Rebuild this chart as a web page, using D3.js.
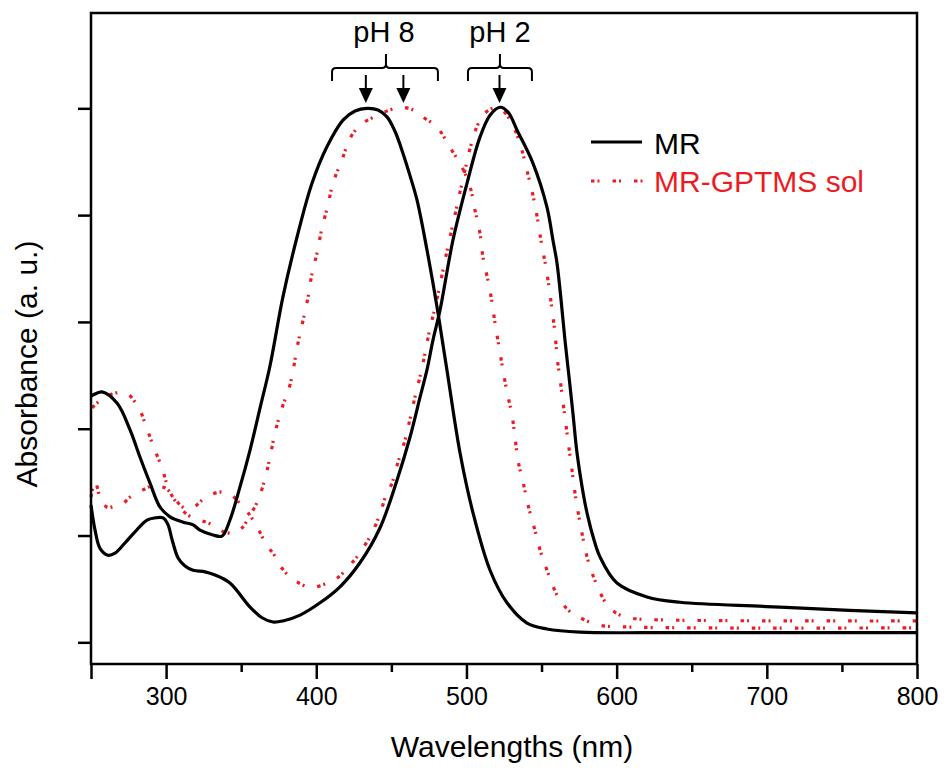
<!DOCTYPE html>
<html><head><meta charset="utf-8">
<script src="https://cdn.jsdelivr.net/npm/d3@7"></script>
<style>
html,body{margin:0;padding:0;background:#fff;}
text{font-family:"Liberation Sans",Arial,sans-serif;}
</style></head>
<body><svg id="chart" width="946" height="773"></svg>
<script>
// ---- data ----
const xTicks = [300, 400, 500, 600, 700, 800];
const xMinorTicks = [250, 350, 450, 550, 650, 750];
const yTicks = [0, 0.2, 0.4, 0.6, 0.8, 1.0];

const mr8_nm  = [250,251.3,257.3,267.3,276,282.6,289.3,296,302.6,311.3,318,322.6,331.2,337.2,342.5,349.2,355.9,362.5,369.2,377.8,387.2,397.2,407.1,417.8,425.8,433.8,441.1,447.1,452.4,457.7,462.4,467.1,473.7,480.4,487,495.7,504.4,515.7,527,540.3,553.6,575.6,622,700,800];
const mr8_abs = [0.461,0.463,0.469,0.448,0.398,0.347,0.298,0.253,0.235,0.225,0.220,0.210,0.201,0.199,0.229,0.291,0.360,0.438,0.518,0.647,0.759,0.860,0.928,0.978,0.995,1.000,0.997,0.984,0.957,0.916,0.874,0.828,0.735,0.628,0.510,0.355,0.242,0.135,0.074,0.036,0.025,0.019,0.018,0.018,0.018];

const mr2_nm  = [250,252.7,256,261.3,266,272.6,279.3,287.3,292.6,298,301.3,304,308,312.6,318,325.9,332.6,342.5,355.9,363.9,371.2,377.8,389.2,402.5,415.8,429.1,442.4,453.8,462.4,469.1,473.7,477.7,482.4,491,500.4,509,515.7,522.3,527.7,533.7,544.3,553.6,557.6,560.3,563,565.6,568.3,571,573.6,577,580.3,584.9,588.9,600.2,620.2,642.2,700,755,800];
const mr2_abs = [0.257,0.210,0.176,0.163,0.167,0.186,0.207,0.229,0.233,0.233,0.220,0.192,0.158,0.143,0.135,0.132,0.126,0.111,0.066,0.046,0.038,0.040,0.051,0.074,0.104,0.149,0.214,0.304,0.384,0.459,0.510,0.566,0.622,0.753,0.860,0.946,0.987,1.002,0.993,0.959,0.897,0.815,0.753,0.710,0.641,0.566,0.497,0.426,0.355,0.291,0.242,0.192,0.160,0.111,0.085,0.075,0.067,0.060,0.055];

const gp8_nm  = [250.7,254,257.3,264,269.3,274.6,279.3,282.6,286,291.3,297.3,300.6,304,310.6,315.9,322.6,329.2,335.9,341.2,345.9,350.5,355.9,361.2,365.9,369.2,372.5,377.2,382.5,387.8,391.2,394.5,397.2,400.5,403.8,407.8,411.1,417.1,422.5,429.1,437.8,449.1,455.8,464.4,472.4,480.4,489,494.4,497,502.4,505.7,509,511,514.3,517,519,521.7,524.3,527,530.3,532.3,534.3,537.7,541,545,549,554.3,561,567.6,574.3,588.9,604.2,655.5,800];
const gp8_abs = [0.439,0.448,0.455,0.465,0.468,0.465,0.450,0.435,0.410,0.369,0.326,0.296,0.274,0.248,0.236,0.229,0.222,0.210,0.205,0.205,0.214,0.238,0.266,0.307,0.347,0.392,0.439,0.482,0.560,0.603,0.646,0.691,0.729,0.776,0.819,0.860,0.903,0.944,0.968,0.983,0.997,1.002,0.997,0.981,0.965,0.927,0.903,0.890,0.853,0.809,0.766,0.721,0.678,0.637,0.598,0.553,0.510,0.469,0.426,0.385,0.341,0.300,0.257,0.216,0.173,0.130,0.085,0.061,0.048,0.032,0.029,0.027,0.027];

const gp2_nm  = [250,252.7,256,260.7,266,271.3,276,282.6,287.3,291.3,296,300.6,305.9,311.3,317.3,323.9,329.2,334.6,339.2,343.9,349.2,353.9,357.2,362.5,367.2,371.2,375.8,382.5,387.2,393.2,399.2,403.8,409.1,413.8,417.8,422.5,427.1,432.4,437.1,442.4,446.4,450.4,454.4,459.1,462.4,465.7,469.1,472.4,475.7,479.1,482.4,485.7,489,492.4,495.7,499,502.4,507,511,515.7,520.3,524.3,529,533.7,537,541,544.3,547,549.6,552.3,555,557,559,560.3,562.3,564.3,566.3,568.3,570.3,572.3,574.9,577.6,580.9,586.3,594.2,602.2,610.2,628.9,800];
const gp2_abs = [0.272,0.302,0.272,0.253,0.255,0.260,0.272,0.283,0.289,0.294,0.292,0.287,0.268,0.253,0.251,0.266,0.275,0.281,0.281,0.275,0.260,0.245,0.232,0.206,0.180,0.167,0.144,0.122,0.113,0.105,0.103,0.107,0.113,0.120,0.130,0.145,0.160,0.182,0.205,0.240,0.275,0.298,0.337,0.379,0.418,0.459,0.498,0.541,0.588,0.627,0.670,0.715,0.758,0.801,0.843,0.884,0.925,0.966,0.987,0.998,1.002,0.996,0.978,0.950,0.921,0.876,0.837,0.798,0.753,0.712,0.665,0.622,0.579,0.534,0.494,0.449,0.406,0.363,0.322,0.279,0.235,0.195,0.154,0.111,0.068,0.051,0.045,0.042,0.040];

const legendLabels = ["MR", "MR-GPTMS sol"];
const annotLabels = ["pH 8", "pH 2"];
const arrowNm = [433, 458, 522];

// ---- drawing ----
const svg = d3.select("#chart");
const L = 91, R = 917, T = 13, B = 664;
const RED = "#ec1c24";
const x = d3.scaleLinear().domain([250, 800]).range([L, R]);
const y = d3.scaleLinear().domain([-0.0406, 1.1785]).range([B, T]);

const line = d3.line().x(d => x(d[0])).y(d => y(d[1])).curve(d3.curveCatmullRom.alpha(0.5));
const zip = (a, b) => a.map((v, i) => [v, b[i]]);

const g = svg.append("g");
// red dotted curves
[[gp8_nm, gp8_abs], [gp2_nm, gp2_abs]].forEach(([a, b]) => {
  g.append("path").attr("d", line(zip(a, b))).attr("fill", "none")
    .attr("stroke", RED).attr("stroke-width", 3.2)
    .attr("stroke-dasharray", "3.5,3,2,13");
});
// black solid curves
[[mr8_nm, mr8_abs], [mr2_nm, mr2_abs]].forEach(([a, b]) => {
  g.append("path").attr("d", line(zip(a, b))).attr("fill", "none")
    .attr("stroke", "#000").attr("stroke-width", 3.2).attr("stroke-linejoin", "round");
});

// frame
svg.append("rect").attr("x", L).attr("y", T).attr("width", R - L).attr("height", B - T)
  .attr("fill", "none").attr("stroke", "#000").attr("stroke-width", 2.5);

// x axis
const xAxis = d3.axisBottom(x).tickValues(xTicks).tickSize(15).tickPadding(8).tickFormat(d3.format("d"));
const xa = svg.append("g").attr("transform", `translate(0,${B})`).call(xAxis);
xa.select(".domain").remove();
xa.selectAll("line").attr("stroke-width", 2.5);
xa.selectAll("text").attr("font-size", 25).attr("fill", "#000").attr("font-family", "Liberation Sans, Arial, sans-serif");
const xm = svg.append("g").attr("transform", `translate(0,${B})`)
  .call(d3.axisBottom(x).tickValues(xMinorTicks).tickSize(8).tickFormat(""));
xm.select(".domain").remove();
xm.selectAll("line").attr("stroke-width", 2.5);
xm.selectAll("line").filter(d => d === 250).attr("y2", 15);

// y axis (ticks only)
const ya = svg.append("g").attr("transform", `translate(${L},0)`)
  .call(d3.axisLeft(y).tickValues(yTicks).tickSize(13).tickFormat(""));
ya.select(".domain").remove();
ya.selectAll("line").attr("stroke-width", 2.5);

// axis titles
svg.append("text").attr("x", (L + R) / 2 + 8).attr("y", 757).attr("text-anchor", "middle")
  .attr("font-size", 30).text("Wavelengths (nm)");
svg.append("text").attr("transform", `translate(37,364) rotate(-90)`).attr("text-anchor", "middle")
  .attr("font-size", 30).text("Absorbance (a. u.)");

// legend
svg.append("line").attr("x1", 591).attr("x2", 642).attr("y1", 142).attr("y2", 142)
  .attr("stroke", "#000").attr("stroke-width", 3.2);
svg.append("text").attr("x", 654).attr("y", 154).attr("font-size", 30).text(legendLabels[0]);
svg.append("line").attr("x1", 591).attr("x2", 645).attr("y1", 181).attr("y2", 181)
  .attr("stroke", RED).attr("stroke-width", 3.2).attr("stroke-dasharray", "3.5,3,2,13");
svg.append("text").attr("x", 654).attr("y", 192).attr("font-size", 30).attr("fill", RED).text(legendLabels[1]);

// annotations: braces, labels, arrows
function brace(n0, n1, nc) {
  const x0 = x(n0), x1 = x(n1), xc = x(nc), yb = 81, yh = 68, yt = 54, r = 4;
  const p = `M${x0},${yb}V${yh + r}Q${x0},${yh} ${x0 + r},${yh}H${xc - r}Q${xc},${yh} ${xc},${yh - r}V${yt}` +
            `M${x1},${yb}V${yh + r}Q${x1},${yh} ${x1 - r},${yh}H${xc + r}Q${xc},${yh} ${xc},${yh - r}`;
  svg.append("path").attr("d", p).attr("fill", "none").attr("stroke", "#000").attr("stroke-width", 2);
}
brace(410.5, 481, 446.4);
brace(501, 543.6, 522.3);
svg.append("text").attr("x", x(446.4) - 2).attr("y", 42).attr("text-anchor", "middle").attr("font-size", 29).text(annotLabels[0]);
svg.append("text").attr("x", x(522.3)).attr("y", 42).attr("text-anchor", "middle").attr("font-size", 29).text(annotLabels[1]);
arrowNm.forEach(n => {
  const ax = x(n);
  svg.append("line").attr("x1", ax).attr("x2", ax).attr("y1", 75).attr("y2", 90).attr("stroke", "#000").attr("stroke-width", 2);
  svg.append("path").attr("d", `M${ax - 7},88L${ax + 7},88L${ax},103Z`).attr("fill", "#000");
});
</script></body></html>
